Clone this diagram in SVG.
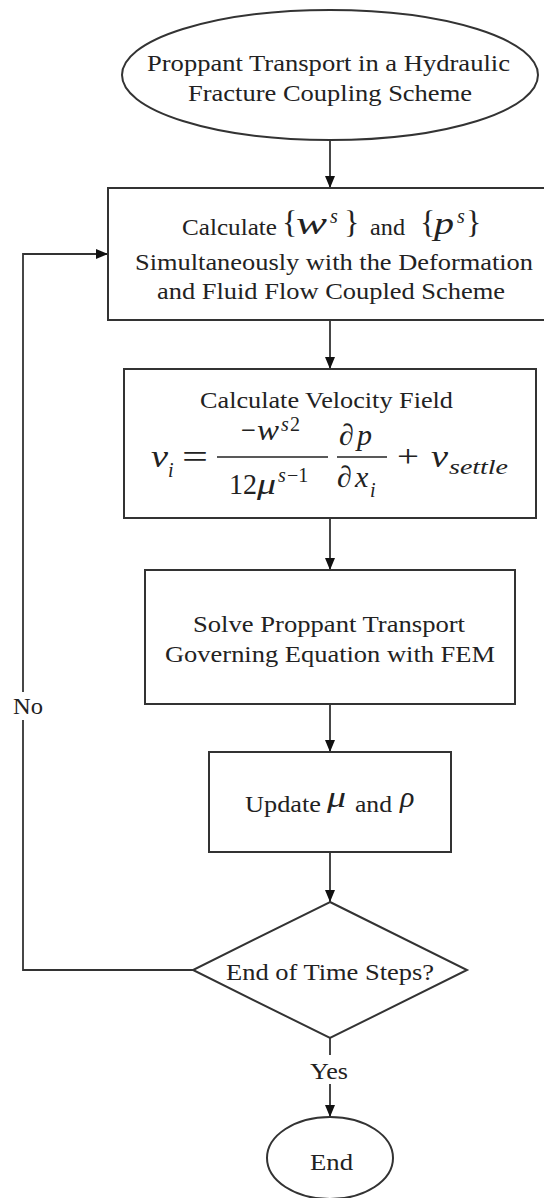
<svg xmlns="http://www.w3.org/2000/svg" width="544" height="1198" viewBox="0 0 544 1198">
<style>
.shape{fill:#fff;stroke:#333;stroke-width:2}
.conn{fill:none;stroke:#333;stroke-width:1.8}
.t{font-family:"Liberation Serif","Times New Roman",serif;font-size:24px;fill:#222}
.m{font-family:"Liberation Serif","Times New Roman",serif;font-style:italic;fill:#222}
.r{font-family:"Liberation Serif","Times New Roman",serif;fill:#222}
.bar{stroke:#222;stroke-width:1.5}
</style>
<defs>
<marker id="ah" viewBox="0 0 12 10" refX="12" refY="5" markerWidth="12" markerHeight="10" markerUnits="userSpaceOnUse" orient="auto">
<path d="M0,0 L12,5 L0,10 z" fill="#111"/>
</marker>
</defs>
<rect width="544" height="1198" fill="#fff"/>
<g id="connectors">
<line class="conn" x1="330" y1="140" x2="330" y2="188" marker-end="url(#ah)"/>
<line class="conn" x1="330" y1="320" x2="330" y2="369" marker-end="url(#ah)"/>
<line class="conn" x1="330" y1="518" x2="330" y2="570" marker-end="url(#ah)"/>
<line class="conn" x1="330" y1="704" x2="330" y2="752" marker-end="url(#ah)"/>
<line class="conn" x1="330" y1="852" x2="330" y2="902" marker-end="url(#ah)"/>
<line class="conn" x1="330" y1="1038" x2="330" y2="1117" marker-end="url(#ah)"/>
<path class="conn" d="M193,970 H23 V254 H108" marker-end="url(#ah)"/>
<rect x="8" y="692" width="40" height="28" fill="#fff"/>
<text class="t" x="13" y="714" textLength="30" lengthAdjust="spacingAndGlyphs">No</text>
<rect x="303" y="1055" width="52" height="29" fill="#fff"/>
<text class="t" x="310" y="1079" textLength="38" lengthAdjust="spacingAndGlyphs">Yes</text>
</g>
<g id="start">
<ellipse class="shape" cx="330" cy="75" rx="208" ry="65"/>
<text class="t" x="147" y="71" textLength="363" lengthAdjust="spacingAndGlyphs">Proppant Transport in a Hydraulic</text>
<text class="t" x="188" y="101" textLength="284" lengthAdjust="spacingAndGlyphs">Fracture Coupling Scheme</text>
</g>
<g id="calc-ws-ps">
<rect class="shape" x="108" y="188" width="446" height="132"/>
<text class="t" x="182" y="235" textLength="95" lengthAdjust="spacingAndGlyphs">Calculate</text>
<text class="r" x="282" y="233" font-size="32">{</text>
<text class="m" x="296" y="234" font-size="32" textLength="31" lengthAdjust="spacingAndGlyphs">w</text>
<text class="m" x="330" y="223" font-size="20">s</text>
<text class="r" x="344" y="233" font-size="32">}</text>
<text class="t" x="370" y="235" textLength="35" lengthAdjust="spacingAndGlyphs">and</text>
<text class="r" x="420" y="233" font-size="32">{</text>
<text class="m" x="434" y="234" font-size="32" textLength="20" lengthAdjust="spacingAndGlyphs">p</text>
<text class="m" x="457" y="223" font-size="20">s</text>
<text class="r" x="466" y="233" font-size="32">}</text>
<text class="t" x="135" y="270" textLength="398" lengthAdjust="spacingAndGlyphs">Simultaneously with the Deformation</text>
<text class="t" x="157" y="299" textLength="348" lengthAdjust="spacingAndGlyphs">and Fluid Flow Coupled Scheme</text>
</g>
<g id="velocity">
<rect class="shape" x="124" y="369" width="412" height="149"/>
<text class="t" x="200" y="408" textLength="253" lengthAdjust="spacingAndGlyphs">Calculate Velocity Field</text>
<text class="m" x="151" y="467" font-size="32" textLength="17" lengthAdjust="spacingAndGlyphs">v</text>
<text class="m" x="168" y="477" font-size="20">i</text>
<text class="r" x="182" y="468" font-size="34" textLength="26" lengthAdjust="spacingAndGlyphs">=</text>
<line class="bar" x1="217" y1="457" x2="328" y2="457"/>
<text class="r" x="241" y="440" font-size="30" textLength="15" lengthAdjust="spacingAndGlyphs">−</text>
<text class="m" x="257" y="440" font-size="30" textLength="22" lengthAdjust="spacingAndGlyphs">w</text>
<text class="m" x="281" y="431" font-size="20">s</text>
<text class="r" x="290" y="431" font-size="20">2</text>
<text class="r" x="229" y="494" font-size="30" textLength="28" lengthAdjust="spacingAndGlyphs">12</text>
<text class="m" x="257" y="494" font-size="30" textLength="19" lengthAdjust="spacingAndGlyphs">μ</text>
<text class="m" x="278" y="482" font-size="20">s</text>
<text class="r" x="287" y="482" font-size="20">−1</text>
<line class="bar" x1="337" y1="457" x2="387" y2="457"/>
<text class="r" x="339" y="445" font-size="30">∂</text>
<text class="m" x="357" y="445" font-size="30">p</text>
<text class="r" x="337" y="487" font-size="30">∂</text>
<text class="m" x="355" y="487" font-size="30">x</text>
<text class="m" x="370" y="497" font-size="20">i</text>
<text class="r" x="397" y="467" font-size="32" textLength="22" lengthAdjust="spacingAndGlyphs">+</text>
<text class="m" x="431" y="467" font-size="32" textLength="17" lengthAdjust="spacingAndGlyphs">v</text>
<text class="m" x="449" y="474" font-size="21" textLength="59" lengthAdjust="spacingAndGlyphs">settle</text>
</g>
<g id="solve">
<rect class="shape" x="145" y="570" width="370" height="134"/>
<text class="t" x="193" y="632" textLength="272" lengthAdjust="spacingAndGlyphs">Solve Proppant Transport</text>
<text class="t" x="165" y="662" textLength="330" lengthAdjust="spacingAndGlyphs">Governing Equation with FEM</text>
</g>
<g id="update">
<rect class="shape" x="209" y="752" width="242" height="100"/>
<text class="t" x="245" y="812" textLength="76" lengthAdjust="spacingAndGlyphs">Update</text>
<text class="m" x="327" y="807" font-size="30" textLength="19" lengthAdjust="spacingAndGlyphs">μ</text>
<text class="t" x="355" y="812" textLength="37" lengthAdjust="spacingAndGlyphs">and</text>
<text class="m" x="400" y="807" font-size="30">ρ</text>
</g>
<g id="decision">
<polygon class="shape" points="330,902 467,970 330,1038 193,970"/>
<text class="t" x="226" y="980" textLength="208" lengthAdjust="spacingAndGlyphs">End of Time Steps?</text>
</g>
<g id="end">
<ellipse class="shape" cx="330" cy="1158" rx="63" ry="41"/>
<text class="t" x="310" y="1170" textLength="43" lengthAdjust="spacingAndGlyphs">End</text>
</g>
</svg>
